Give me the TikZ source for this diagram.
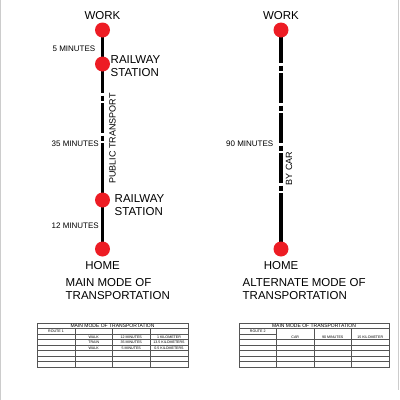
\documentclass[tikz,border=0pt]{standalone}
\usepackage{fontspec}
\setmainfont{Liberation Sans}
\definecolor{dotred}{HTML}{ED1C24}
\definecolor{tblgray}{HTML}{555555}
\tikzset{
  dotnode/.style={circle, fill=dotred, draw=none, minimum size=15pt, inner sep=0pt},
  route/.style={line width=3.6pt, black, line cap=butt},
  dashroute/.style={route, dash pattern=on 30pt off 2.5pt on 5pt off 2.5pt, dash phase=30pt},
  lbl/.style={inner sep=0pt, font=\fontsize{11.5}{13}\selectfont},
  minlbl/.style={inner sep=0pt, anchor=east, font=\fontsize{8}{9}\selectfont},
  vlbl/.style={inner sep=0pt, rotate=90, font=\fontsize{9}{10}\selectfont},
  tline/.style={tblgray, line width=0.6pt},
  ttitle/.style={inner sep=0pt, font=\fontsize{5}{6}\selectfont},
  tcell/.style={inner sep=0pt, font=\fontsize{3.6}{4}\selectfont},
  edge line/.style={gray!40, line width=1.2pt},
}
\begin{document}
\begin{tikzpicture}[x=1pt, y=-1pt]
\useasboundingbox (0,0) rectangle (400,400);
\fill[white] (0,0) rectangle (400,400);
\draw[edge line] (0.8,0) -- (0.8,400);
\draw[edge line] (398.8,0) -- (398.8,390);

% ---------- left route ----------
\coordinate (w1) at (102.5,30);
\coordinate (r1) at (102.5,64);
\coordinate (a1) at (102.5,93);
\coordinate (b1) at (102.5,172);
\coordinate (r2) at (102.5,200);
\coordinate (h1) at (102.5,249);
\draw[route] (w1) -- (a1);
\draw[dashroute] (a1) -- (b1);
\draw[route] (b1) -- (h1);
\node[dotnode] (w1d) at (w1) {};
\node[dotnode] (r1d) at (r1) {};
\node[dotnode] (r2d) at (r2) {};
\node[dotnode] (h1d) at (h1) {};

\node[lbl] (work1) at (102.5,16) {WORK};
\node[minlbl] (min5) at (95.5,49) {5 MINUTES};
\node[lbl, anchor=west, align=left] (rs1) at (110.5,66) {RAILWAY\\STATION};
\node[vlbl] (pt) at (112.5,138.5) {PUBLIC TRANSPORT};
\node[minlbl] (min35) at (99,144) {35 MINUTES};
\node[lbl, anchor=west, align=left] (rs2) at (114.5,205.5) {RAILWAY\\STATION};
\node[minlbl] (min12) at (99,226) {12 MINUTES};
\node[lbl] (home1) at (102.5,266) {HOME};
\node[lbl, anchor=west, align=left] (main) at (65.5,289.5) {MAIN MODE OF\\TRANSPORTATION};

% ---------- right route ----------
\coordinate (w2) at (281,30);
\coordinate (a2) at (281,63);
\coordinate (b2) at (281,215);
\coordinate (h2) at (281,249);
\draw[route] (w2) -- (a2);
\draw[dashroute] (a2) -- (b2);
\draw[route] (b2) -- (h2);
\node[dotnode] (w2d) at (w2) {};
\node[dotnode] (h2d) at (h2) {};

\node[lbl] (work2) at (281,16) {WORK};
\node[minlbl] (min90) at (273.5,144) {90 MINUTES};
\node[vlbl] (bycar) at (289,168.5) {BY CAR};
\node[lbl] (home2) at (281,266) {HOME};
\node[lbl, anchor=west, align=left] (alt) at (242.5,289.5) {ALTERNATE MODE OF\\TRANSPORTATION};

% ---------- left table ----------
\begin{scope}
\draw[tline] (37,323) rectangle (188,367);
\foreach \yy in {328.5,339.5,345,350.5,356,361.5} \draw[tline] (37,\yy) -- (188,\yy);
\draw[tline] (37,334) -- (188,334);
\foreach \xx in {75,112.5,150} \draw[tline] (\xx,328.5) -- (\xx,367);
\node[ttitle] (t1title) at (112.5,325.9) {MAIN MODE OF TRANSPORTATION};
\node[tcell] (t1r) at (56,331.3) {ROUTE 1};
\node[tcell] (t1a) at (93.75,336.8) {WALK};
\node[tcell] (t1b) at (131.25,336.8) {12 MINUTES};
\node[tcell] (t1c) at (169,336.8) {1 KILOMETER};
\node[tcell] (t1d) at (93.75,342.3) {TRAIN};
\node[tcell] (t1e) at (131.25,342.3) {35 MINUTES};
\node[tcell] (t1f) at (169,342.3) {13.5 KILOMETERS};
\node[tcell] (t1g) at (93.75,347.8) {WALK};
\node[tcell] (t1h) at (131.25,347.8) {5 MINUTES};
\node[tcell] (t1i) at (169,347.8) {0.5 KILOMETERS};
\end{scope}

% ---------- right table ----------
\begin{scope}
\draw[tline] (239,323) rectangle (389,367);
\foreach \yy in {328.5,339.5,345,350.5,356,361.5} \draw[tline] (239,\yy) -- (389,\yy);
\draw[tline] (239,334) -- (276.5,334);
\foreach \xx in {276.5,314,351.5} \draw[tline] (\xx,328.5) -- (\xx,367);
\node[ttitle] (t2title) at (314,325.9) {MAIN MODE OF TRANSPORTATION};
\node[tcell] (t2r) at (257.75,331.3) {ROUTE 2};
\node[tcell] (t2a) at (295.25,336.8) {CAR};
\node[tcell] (t2b) at (332.75,336.8) {90 MINUTES};
\node[tcell] (t2c) at (370.25,336.8) {15 KILOMETER};
\end{scope}
\end{tikzpicture}
\end{document}
